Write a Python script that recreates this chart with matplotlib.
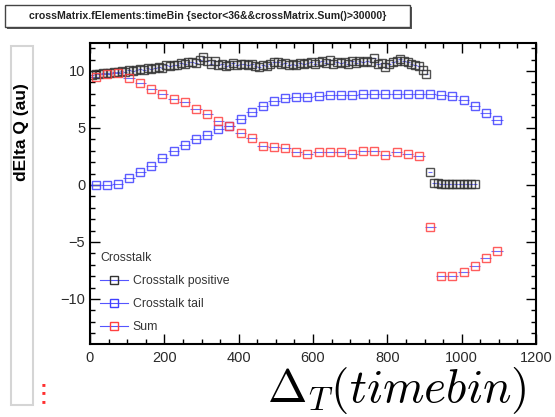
import numpy as np
import matplotlib
matplotlib.use("Agg")
import matplotlib.pyplot as plt
from matplotlib.lines import Line2D
from matplotlib.patches import Rectangle
from matplotlib.ticker import MultipleLocator

plt.rcParams['font.family'] = ['Liberation Sans', 'DejaVu Sans']
plt.rcParams['mathtext.fontset'] = 'cm'

# bin centres (time bins)
x_pos = np.arange(5, 1040, 10)
x_tail = np.arange(15, 1100, 30)

crosstalk_positive = [
    9.6, 9.7, 9.75, 9.8, 9.8, 9.85, 9.9, 9.9, 10.0, 9.95,
    10.1, 10.0, 10.1, 10.15, 10.1, 10.25, 10.2, 10.3, 10.35, 10.3,
    10.5, 10.4, 10.55, 10.5, 10.7, 10.6, 10.75, 10.8, 10.7, 11.0,
    11.2, 10.9, 10.6, 10.9, 10.5, 10.6, 10.4, 10.5, 10.7, 10.5,
    10.6, 10.65, 10.5, 10.6, 10.4, 10.35, 10.5, 10.45, 10.6, 10.75,
    10.8, 10.6, 10.7, 10.5, 10.6, 10.55, 10.7, 10.6, 10.7, 10.75,
    10.6, 10.8, 10.85, 10.7, 10.95, 10.6, 10.8, 10.7, 10.8, 10.65,
    10.9, 10.7, 10.85, 10.75, 10.9, 10.8, 11.1, 10.6, 10.7, 10.35,
    10.6, 10.8, 10.9, 11.05, 10.9, 10.8, 10.6, 10.5, 10.4, 10.1,
    9.7, 1.1, 0.2, 0.15, 0.1, 0.1, 0.05, 0.05, 0.05, 0.05,
    0.05, 0.05, 0.05, 0.05]

crosstalk_tail = [
    0.0, 0.0, 0.1, 0.6, 1.1, 1.7, 2.4, 3.0, 3.5, 4.0,
    4.4, 4.9, 5.2, 5.8, 6.4, 6.9, 7.4, 7.6, 7.7, 7.75,
    7.8, 7.85, 7.9, 7.9, 7.95, 7.95, 7.95, 7.95, 7.95, 7.95,
    7.95, 7.9, 7.8, 7.45, 6.95, 6.3, 5.7]

crosstalk_sum = [
    9.5, 9.7, 9.85, 9.35, 8.9, 8.4, 8.0, 7.55, 7.25, 6.7,
    6.2, 5.65, 5.2, 4.6, 4.15, 3.4, 3.3, 3.2, 2.85, 2.7,
    2.85, 2.85, 2.85, 2.7, 2.95, 2.95, 2.6, 2.85, 2.75, 2.5,
    -3.7, -8.0, -8.0, -7.65, -7.1, -6.4, -5.75]

labels = ["Crosstalk positive", "Crosstalk tail", "Sum"]
colors = ["#333333", "#4040ff", "#ff4040"]
err_col = "#5555ff"

fig = plt.figure(figsize=(5.55, 4.17), dpi=100)
ax = fig.add_axes([90 / 555, 1 - 344 / 417, 446 / 555, 301 / 417])

series = [(x_pos, crosstalk_positive, 5), (x_tail, crosstalk_tail, 15), (x_tail, crosstalk_sum, 15)]
for (xs, ys, hw), c in zip(series, colors):
    ax.errorbar(xs, ys, xerr=hw, fmt='s', ms=6, mfc='none', mec=c, mew=1.0,
                ecolor=err_col, elinewidth=0.8, capsize=0, alpha=0.85)

ax.set_xlim(0, 1200)
ax.set_ylim(-13.95, 12.45)
ax.xaxis.set_major_locator(MultipleLocator(200))
ax.xaxis.set_minor_locator(MultipleLocator(50))
ax.yaxis.set_major_locator(MultipleLocator(5))
ax.yaxis.set_minor_locator(MultipleLocator(1))
ax.tick_params(which='both', direction='in', top=True, right=True,
               labelsize=10.5, labelcolor='#2a2a2a', width=1.0)
ax.tick_params(which='major', length=7)
ax.tick_params(which='minor', length=3.5)
ax.tick_params(axis='x', pad=5)
for s in ax.spines.values():
    s.set_linewidth(1.5)

handles = [Line2D([], [], color=err_col, lw=0.8, marker='s', ms=6, mfc='none', mec=c, mew=1.0)
           for c in colors]
leg = ax.legend(handles, labels, title="Crosstalk", loc='upper left',
                bbox_to_anchor=(95 / 555, 1 - 247 / 417), bbox_transform=fig.transFigure,
                frameon=False, fontsize=8.8, title_fontsize=8.8, labelspacing=0.9,
                handlelength=2.3, handletextpad=0.4, alignment='left', borderaxespad=0)
for t in leg.get_texts():
    t.set_color('#333333')
leg.get_title().set_color('#333333')

# title box with shadow
fig.patches.append(Rectangle((7 / 555, 1 - 29 / 417), 405 / 555, 22 / 417, transform=fig.transFigure,
                             facecolor='#555555', edgecolor='none', zorder=1))
fig.patches.append(Rectangle((5 / 555, 1 - 27 / 417), 405 / 555, 22 / 417, transform=fig.transFigure,
                             facecolor='white', edgecolor='#444444', lw=1.0, zorder=2))
fig.text(208 / 555, 1 - 16 / 417, "crossMatrix.fElements:timeBin {sector<36&&crossMatrix.Sum()>30000}",
         ha='center', va='center', fontsize=7.6, fontweight='bold', color='#222222', zorder=3)

# y label in light box
fig.patches.append(Rectangle((11 / 555, 1 - 405 / 417), 22 / 555, 359 / 417, transform=fig.transFigure,
                             facecolor='white', edgecolor='#d5d5d5', lw=1.5))
fig.text(22 / 555, 1 - 132 / 417, "dElta Q (au)", rotation=90, ha='center', va='center',
         fontsize=12.5, fontweight='bold', color='black')

for yy in (385, 393, 402):
    fig.text(43 / 555, 1 - yy / 417, "\u25a0", color='#ff3030', fontsize=4.5,
             ha='center', va='center')

fig.text(397 / 555, 1 - 391 / 417, r"$\Delta_T(timebin)$", ha='center', va='center', fontsize=34)

fig.savefig("out.png", dpi=100)
